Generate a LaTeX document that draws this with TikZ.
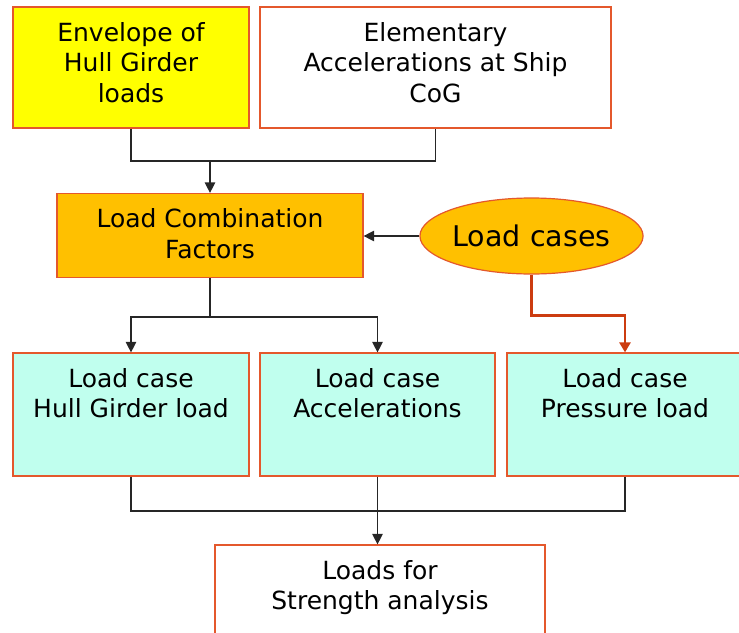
\documentclass[tikz,border=0pt]{standalone}
\usepackage{fontspec}
\setmainfont{DejaVu Sans}
\usetikzlibrary{shapes.geometric,arrows.meta}
\definecolor{bord}{RGB}{228,88,44}
\definecolor{yel}{RGB}{255,255,0}
\definecolor{org}{RGB}{255,192,0}
\definecolor{cyn}{RGB}{192,255,238}
\definecolor{redl}{RGB}{204,60,16}
\newcommand\bt[3]{\parbox[c][#2][t]{#1}{\centering\vspace*{12.8pt}\strut #3}}
\tikzset{
  box/.style={draw=bord, line width=1.2pt, inner sep=0pt, font=\fontsize{25}{30.5}\selectfont},
  conn/.style={line width=1.2pt, black!85},
  arr/.style={conn, -{Triangle[length=10.5pt,width=10.5pt]}},
  rarr/.style={line width=2.6pt, redl, -{Triangle[length=10pt,width=11pt]}}
}
\begin{document}
\begin{tikzpicture}[x=1pt,y=-1pt]
\useasboundingbox (0,0) rectangle (739,632);
\node[box, fill=yel] (A) at (131,67.5) {\bt{236pt}{121pt}{Envelope of\\Hull Girder\\loads}};
\node[box, fill=white] (B) at (435.5,67.5) {\bt{351pt}{121pt}{Elementary\\Accelerations at Ship\\CoG}};
\node[box, fill=org] (C) at (210,235.5) {\bt{306pt}{84pt}{Load Combination\\Factors}};
\node[ellipse, draw=bord, line width=1.2pt, fill=org, minimum width=217pt, minimum height=76pt, inner sep=0pt, font=\fontsize{28.5}{34}\selectfont] (L) at (531.5,236) {Load cases};
\node[box, fill=cyn] (D) at (131,414.5) {\bt{236pt}{123pt}{Load case\\Hull Girder load}};
\node[box, fill=cyn] (E) at (377.5,414.5) {\bt{235pt}{123pt}{Load case\\Accelerations}};
\node[box, fill=cyn] (F) at (625,414.5) {\bt{236pt}{123pt}{Load case\\Pressure load}};
\node[box, fill=white] (G) at (380,595) {\bt{330pt}{100pt}{Loads for\\Strength analysis}};
% top join
\coordinate (j1) at (210,161);
\draw[conn] (A.south) |- (j1) -| (B.south);
\draw[arr] (j1) -- (C.north);
% load cases
\draw[arr] (L.west) -- (L.west -| C.east);
\draw[rarr] (L.south) -- ++(0,41) -| (F.north);
% split
\coordinate (j2) at (210,317);
\draw[conn] (C.south) -- (j2);
\draw[arr] (j2) -| (D.north);
\draw[arr] (j2) -| (E.north);
% bottom join
\coordinate (j3) at (377.5,511);
\draw[conn] (D.south) |- (j3);
\draw[conn] (F.south) |- (j3);
\draw[conn] (E.south) -- (j3);
\draw[arr] (j3) -- (G.north -| j3);
\end{tikzpicture}
\end{document}
